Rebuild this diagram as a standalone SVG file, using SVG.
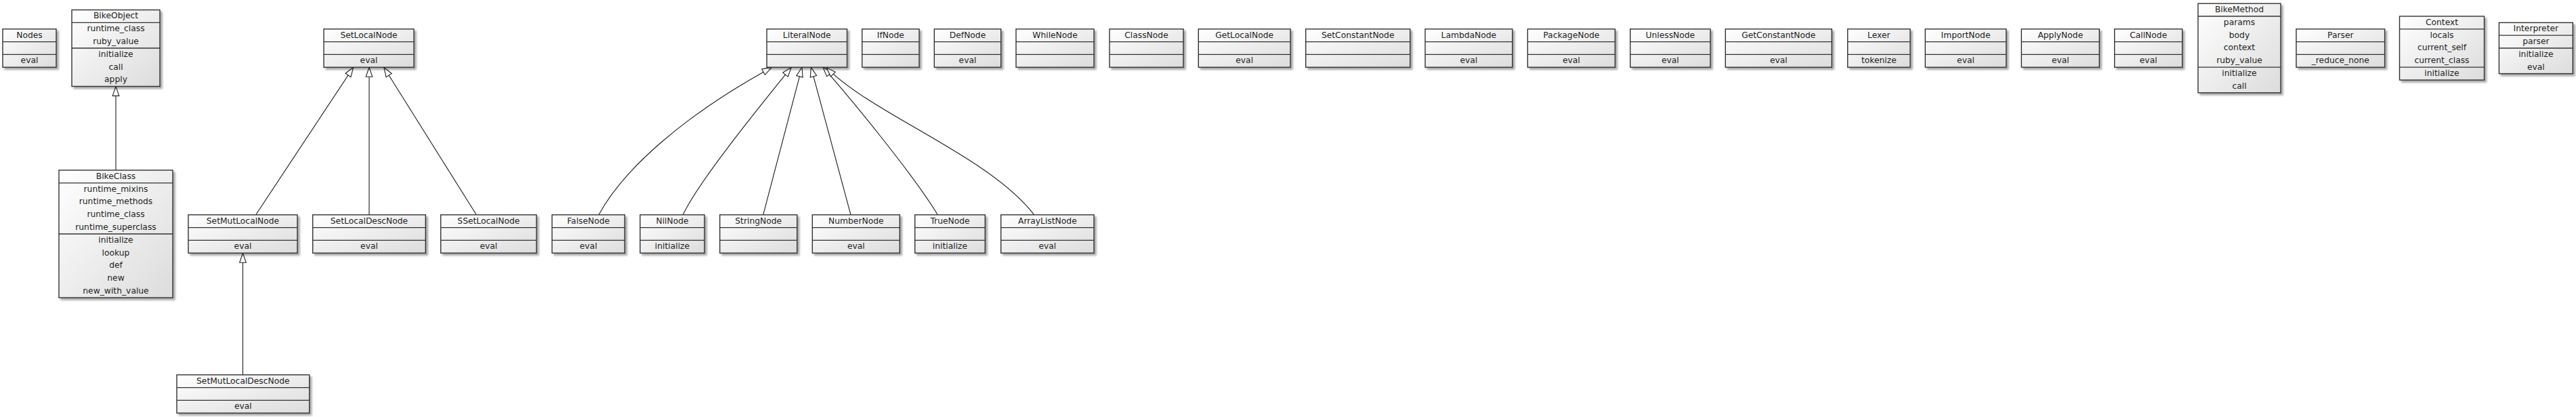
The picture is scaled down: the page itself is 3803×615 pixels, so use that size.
<svg xmlns="http://www.w3.org/2000/svg" width="3803" height="615" viewBox="0 0 3803 615">
<defs>
<linearGradient id="g" x1="0" y1="0" x2="1" y2="1">
<stop offset="0" stop-color="#ffffff"/>
<stop offset="1" stop-color="#dcdcdc"/>
</linearGradient>
<filter id="sh" x="-10%" y="-10%" width="130%" height="130%">
<feGaussianBlur in="SourceAlpha" stdDeviation="1.5"/>
<feOffset dx="2.5" dy="2.5" result="b"/>
<feComponentTransfer><feFuncA type="linear" slope="0.35"/></feComponentTransfer>
<feMerge><feMergeNode/><feMergeNode in="SourceGraphic"/></feMerge>
</filter>
<marker id="tri" markerUnits="userSpaceOnUse" viewBox="0 0 16 12" markerWidth="16" markerHeight="12" refX="15" refY="6" orient="auto">
<path d="M1,1.2 L15,6 L1,10.8 Z" fill="#ffffff" stroke="#222222" stroke-width="1.1" stroke-linejoin="miter"/>
</marker>
</defs>
<style>
.box{fill:url(#g);stroke:#333333;stroke-width:1.4;filter:url(#sh)}
.div{stroke:#333333;stroke-width:1.3}
text{font-family:"DejaVu Sans","Liberation Sans",sans-serif;font-size:12.3px;fill:#1e1e1e;text-anchor:middle}
.edge{fill:none;stroke:#1a1a1a;stroke-width:1.1;marker-end:url(#tri)}
</style>
<rect width="3803" height="615" fill="#ffffff"/>

<g id="connectors">
<path class="edge" d="M171,251 L171,127.4"/>
<path class="edge" d="M377.7,316.8 L521.7,99.2"/>
<path class="edge" d="M545,316.8 L545,99.2"/>
<path class="edge" d="M703.3,316.8 L566.7,99.2"/>
<path class="edge" d="M358.5,552.8 L358.5,373.2"/>
<path class="edge" d="M884,316.8 C920,250 1010,170 1139.3,99.4"/>
<path class="edge" d="M1008.3,316.8 C1030,270 1115,165 1168.3,99.2"/>
<path class="edge" d="M1126.7,316.8 L1184,99.2"/>
<path class="edge" d="M1256,316.8 L1197.3,99.2"/>
<path class="edge" d="M1384.3,316.8 C1350,260 1260,150 1215,99.2"/>
<path class="edge" d="M1526.7,316.8 C1460,230 1290,170 1220,99.6"/>
</g>

<g id="Nodes"><rect class="box" x="4" y="42.8" width="79" height="56.4"/><line class="div" x1="4" y1="61.6" x2="83" y2="61.6"/><line class="div" x1="4" y1="80.4" x2="83" y2="80.4"/><text x="43.5" y="55.6">Nodes</text><text x="43.5" y="93.2">eval</text></g>

<g id="BikeObject"><rect class="box" x="106" y="14.6" width="130" height="112.8"/><line class="div" x1="106" y1="33.4" x2="236" y2="33.4"/><line class="div" x1="106" y1="71" x2="236" y2="71"/><text x="171" y="27.4">BikeObject</text><text x="171" y="46.2">runtime_class</text><text x="171" y="65">ruby_value</text><text x="171" y="83.8">initialize</text><text x="171" y="102.6">call</text><text x="171" y="121.4">apply</text></g>

<g id="SetLocalNode"><rect class="box" x="478" y="42.8" width="133" height="56.4"/><line class="div" x1="478" y1="61.6" x2="611" y2="61.6"/><line class="div" x1="478" y1="80.4" x2="611" y2="80.4"/><text x="544.5" y="55.6">SetLocalNode</text><text x="544.5" y="93.2">eval</text></g>

<g id="LiteralNode"><rect class="box" x="1132" y="42.8" width="118.5" height="56.4"/><line class="div" x1="1132" y1="61.6" x2="1250.5" y2="61.6"/><line class="div" x1="1132" y1="80.4" x2="1250.5" y2="80.4"/><text x="1191.25" y="55.6">LiteralNode</text></g>

<g id="IfNode"><rect class="box" x="1272.7" y="42.8" width="84.3" height="56.4"/><line class="div" x1="1272.7" y1="61.6" x2="1357" y2="61.6"/><line class="div" x1="1272.7" y1="80.4" x2="1357" y2="80.4"/><text x="1314.85" y="55.6">IfNode</text></g>

<g id="DefNode"><rect class="box" x="1379.3" y="42.8" width="98.4" height="56.4"/><line class="div" x1="1379.3" y1="61.6" x2="1477.7" y2="61.6"/><line class="div" x1="1379.3" y1="80.4" x2="1477.7" y2="80.4"/><text x="1428.5" y="55.6">DefNode</text><text x="1428.5" y="93.2">eval</text></g>

<g id="WhileNode"><rect class="box" x="1500" y="42.8" width="115" height="56.4"/><line class="div" x1="1500" y1="61.6" x2="1615" y2="61.6"/><line class="div" x1="1500" y1="80.4" x2="1615" y2="80.4"/><text x="1557.5" y="55.6">WhileNode</text></g>

<g id="ClassNode"><rect class="box" x="1638" y="42.8" width="109" height="56.4"/><line class="div" x1="1638" y1="61.6" x2="1747" y2="61.6"/><line class="div" x1="1638" y1="80.4" x2="1747" y2="80.4"/><text x="1692.5" y="55.6">ClassNode</text></g>

<g id="GetLocalNode"><rect class="box" x="1769.3" y="42.8" width="135.7" height="56.4"/><line class="div" x1="1769.3" y1="61.6" x2="1905" y2="61.6"/><line class="div" x1="1769.3" y1="80.4" x2="1905" y2="80.4"/><text x="1837.15" y="55.6">GetLocalNode</text><text x="1837.15" y="93.2">eval</text></g>

<g id="SetConstantNode"><rect class="box" x="1927.7" y="42.8" width="154" height="56.4"/><line class="div" x1="1927.7" y1="61.6" x2="2081.7" y2="61.6"/><line class="div" x1="1927.7" y1="80.4" x2="2081.7" y2="80.4"/><text x="2004.7" y="55.6">SetConstantNode</text></g>

<g id="LambdaNode"><rect class="box" x="2104" y="42.8" width="128.7" height="56.4"/><line class="div" x1="2104" y1="61.6" x2="2232.7" y2="61.6"/><line class="div" x1="2104" y1="80.4" x2="2232.7" y2="80.4"/><text x="2168.35" y="55.6">LambdaNode</text><text x="2168.35" y="93.2">eval</text></g>

<g id="PackageNode"><rect class="box" x="2255.3" y="42.8" width="129" height="56.4"/><line class="div" x1="2255.3" y1="61.6" x2="2384.3" y2="61.6"/><line class="div" x1="2255.3" y1="80.4" x2="2384.3" y2="80.4"/><text x="2319.8" y="55.6">PackageNode</text><text x="2319.8" y="93.2">eval</text></g>

<g id="UnlessNode"><rect class="box" x="2406.7" y="42.8" width="118.3" height="56.4"/><line class="div" x1="2406.7" y1="61.6" x2="2525" y2="61.6"/><line class="div" x1="2406.7" y1="80.4" x2="2525" y2="80.4"/><text x="2465.85" y="55.6">UnlessNode</text><text x="2465.85" y="93.2">eval</text></g>

<g id="GetConstantNode"><rect class="box" x="2547.3" y="42.8" width="157" height="56.4"/><line class="div" x1="2547.3" y1="61.6" x2="2704.3" y2="61.6"/><line class="div" x1="2547.3" y1="80.4" x2="2704.3" y2="80.4"/><text x="2625.8" y="55.6">GetConstantNode</text><text x="2625.8" y="93.2">eval</text></g>

<g id="Lexer"><rect class="box" x="2727.7" y="42.8" width="92.3" height="56.4"/><line class="div" x1="2727.7" y1="61.6" x2="2820" y2="61.6"/><line class="div" x1="2727.7" y1="80.4" x2="2820" y2="80.4"/><text x="2773.85" y="55.6">Lexer</text><text x="2773.85" y="93.2">tokenize</text></g>

<g id="ImportNode"><rect class="box" x="2842.3" y="42.8" width="119.4" height="56.4"/><line class="div" x1="2842.3" y1="61.6" x2="2961.7" y2="61.6"/><line class="div" x1="2842.3" y1="80.4" x2="2961.7" y2="80.4"/><text x="2902" y="55.6">ImportNode</text><text x="2902" y="93.2">eval</text></g>

<g id="ApplyNode"><rect class="box" x="2984.3" y="42.8" width="115" height="56.4"/><line class="div" x1="2984.3" y1="61.6" x2="3099.3" y2="61.6"/><line class="div" x1="2984.3" y1="80.4" x2="3099.3" y2="80.4"/><text x="3041.8" y="55.6">ApplyNode</text><text x="3041.8" y="93.2">eval</text></g>

<g id="CallNode"><rect class="box" x="3121.7" y="42.8" width="100" height="56.4"/><line class="div" x1="3121.7" y1="61.6" x2="3221.7" y2="61.6"/><line class="div" x1="3121.7" y1="80.4" x2="3221.7" y2="80.4"/><text x="3171.7" y="55.6">CallNode</text><text x="3171.7" y="93.2">eval</text></g>

<g id="BikeMethod"><rect class="box" x="3245" y="5.2" width="122" height="131.6"/><line class="div" x1="3245" y1="24" x2="3367" y2="24"/><line class="div" x1="3245" y1="99.2" x2="3367" y2="99.2"/><text x="3306" y="18">BikeMethod</text><text x="3306" y="36.8">params</text><text x="3306" y="55.6">body</text><text x="3306" y="74.4">context</text><text x="3306" y="93.2">ruby_value</text><text x="3306" y="112">initialize</text><text x="3306" y="130.8">call</text></g>

<g id="Parser"><rect class="box" x="3390" y="42.8" width="130.6" height="56.4"/><line class="div" x1="3390" y1="61.6" x2="3520.6" y2="61.6"/><line class="div" x1="3390" y1="80.4" x2="3520.6" y2="80.4"/><text x="3455.3" y="55.6">Parser</text><text x="3455.3" y="93.2">_reduce_none</text></g>

<g id="Context"><rect class="box" x="3542.5" y="24" width="125" height="94"/><line class="div" x1="3542.5" y1="42.8" x2="3667.5" y2="42.8"/><line class="div" x1="3542.5" y1="99.2" x2="3667.5" y2="99.2"/><text x="3605" y="36.8">Context</text><text x="3605" y="55.6">locals</text><text x="3605" y="74.4">current_self</text><text x="3605" y="93.2">current_class</text><text x="3605" y="112">initialize</text></g>

<g id="Interpreter"><rect class="box" x="3689.4" y="33.4" width="108.9" height="75.2"/><line class="div" x1="3689.4" y1="52.2" x2="3798.3" y2="52.2"/><line class="div" x1="3689.4" y1="71" x2="3798.3" y2="71"/><text x="3743.85" y="46.2">Interpreter</text><text x="3743.85" y="65">parser</text><text x="3743.85" y="83.8">initialize</text><text x="3743.85" y="102.6">eval</text></g>

<g id="BikeClass"><rect class="box" x="87" y="251" width="168" height="188"/><line class="div" x1="87" y1="269.8" x2="255" y2="269.8"/><line class="div" x1="87" y1="345" x2="255" y2="345"/><text x="171" y="263.8">BikeClass</text><text x="171" y="282.6">runtime_mixins</text><text x="171" y="301.4">runtime_methods</text><text x="171" y="320.2">runtime_class</text><text x="171" y="339">runtime_superclass</text><text x="171" y="357.8">initialize</text><text x="171" y="376.6">lookup</text><text x="171" y="395.4">def</text><text x="171" y="414.2">new</text><text x="171" y="433">new_with_value</text></g>

<g id="SetMutLocalNode"><rect class="box" x="278" y="316.8" width="161" height="56.4"/><line class="div" x1="278" y1="335.6" x2="439" y2="335.6"/><line class="div" x1="278" y1="354.4" x2="439" y2="354.4"/><text x="358.5" y="329.6">SetMutLocalNode</text><text x="358.5" y="367.2">eval</text></g>

<g id="SetLocalDescNode"><rect class="box" x="461.7" y="316.8" width="166.6" height="56.4"/><line class="div" x1="461.7" y1="335.6" x2="628.3" y2="335.6"/><line class="div" x1="461.7" y1="354.4" x2="628.3" y2="354.4"/><text x="545" y="329.6">SetLocalDescNode</text><text x="545" y="367.2">eval</text></g>

<g id="SSetLocalNode"><rect class="box" x="650.7" y="316.8" width="141.3" height="56.4"/><line class="div" x1="650.7" y1="335.6" x2="792" y2="335.6"/><line class="div" x1="650.7" y1="354.4" x2="792" y2="354.4"/><text x="721.35" y="329.6">SSetLocalNode</text><text x="721.35" y="367.2">eval</text></g>

<g id="FalseNode"><rect class="box" x="815" y="316.8" width="107.3" height="56.4"/><line class="div" x1="815" y1="335.6" x2="922.3" y2="335.6"/><line class="div" x1="815" y1="354.4" x2="922.3" y2="354.4"/><text x="868.65" y="329.6">FalseNode</text><text x="868.65" y="367.2">eval</text></g>

<g id="NilNode"><rect class="box" x="945" y="316.8" width="95" height="56.4"/><line class="div" x1="945" y1="335.6" x2="1040" y2="335.6"/><line class="div" x1="945" y1="354.4" x2="1040" y2="354.4"/><text x="992.5" y="329.6">NilNode</text><text x="992.5" y="367.2">initialize</text></g>

<g id="StringNode"><rect class="box" x="1062.7" y="316.8" width="114" height="56.4"/><line class="div" x1="1062.7" y1="335.6" x2="1176.7" y2="335.6"/><line class="div" x1="1062.7" y1="354.4" x2="1176.7" y2="354.4"/><text x="1119.7" y="329.6">StringNode</text></g>

<g id="NumberNode"><rect class="box" x="1199.3" y="316.8" width="129" height="56.4"/><line class="div" x1="1199.3" y1="335.6" x2="1328.3" y2="335.6"/><line class="div" x1="1199.3" y1="354.4" x2="1328.3" y2="354.4"/><text x="1263.8" y="329.6">NumberNode</text><text x="1263.8" y="367.2">eval</text></g>

<g id="TrueNode"><rect class="box" x="1350.7" y="316.8" width="103.6" height="56.4"/><line class="div" x1="1350.7" y1="335.6" x2="1454.3" y2="335.6"/><line class="div" x1="1350.7" y1="354.4" x2="1454.3" y2="354.4"/><text x="1402.5" y="329.6">TrueNode</text><text x="1402.5" y="367.2">initialize</text></g>

<g id="ArrayListNode"><rect class="box" x="1477.7" y="316.8" width="137.3" height="56.4"/><line class="div" x1="1477.7" y1="335.6" x2="1615" y2="335.6"/><line class="div" x1="1477.7" y1="354.4" x2="1615" y2="354.4"/><text x="1546.35" y="329.6">ArrayListNode</text><text x="1546.35" y="367.2">eval</text></g>

<g id="SetMutLocalDescNode"><rect class="box" x="261" y="552.8" width="195.7" height="56.4"/><line class="div" x1="261" y1="571.6" x2="456.7" y2="571.6"/><line class="div" x1="261" y1="590.4" x2="456.7" y2="590.4"/><text x="358.85" y="565.6">SetMutLocalDescNode</text><text x="358.85" y="603.2">eval</text></g>
</svg>
